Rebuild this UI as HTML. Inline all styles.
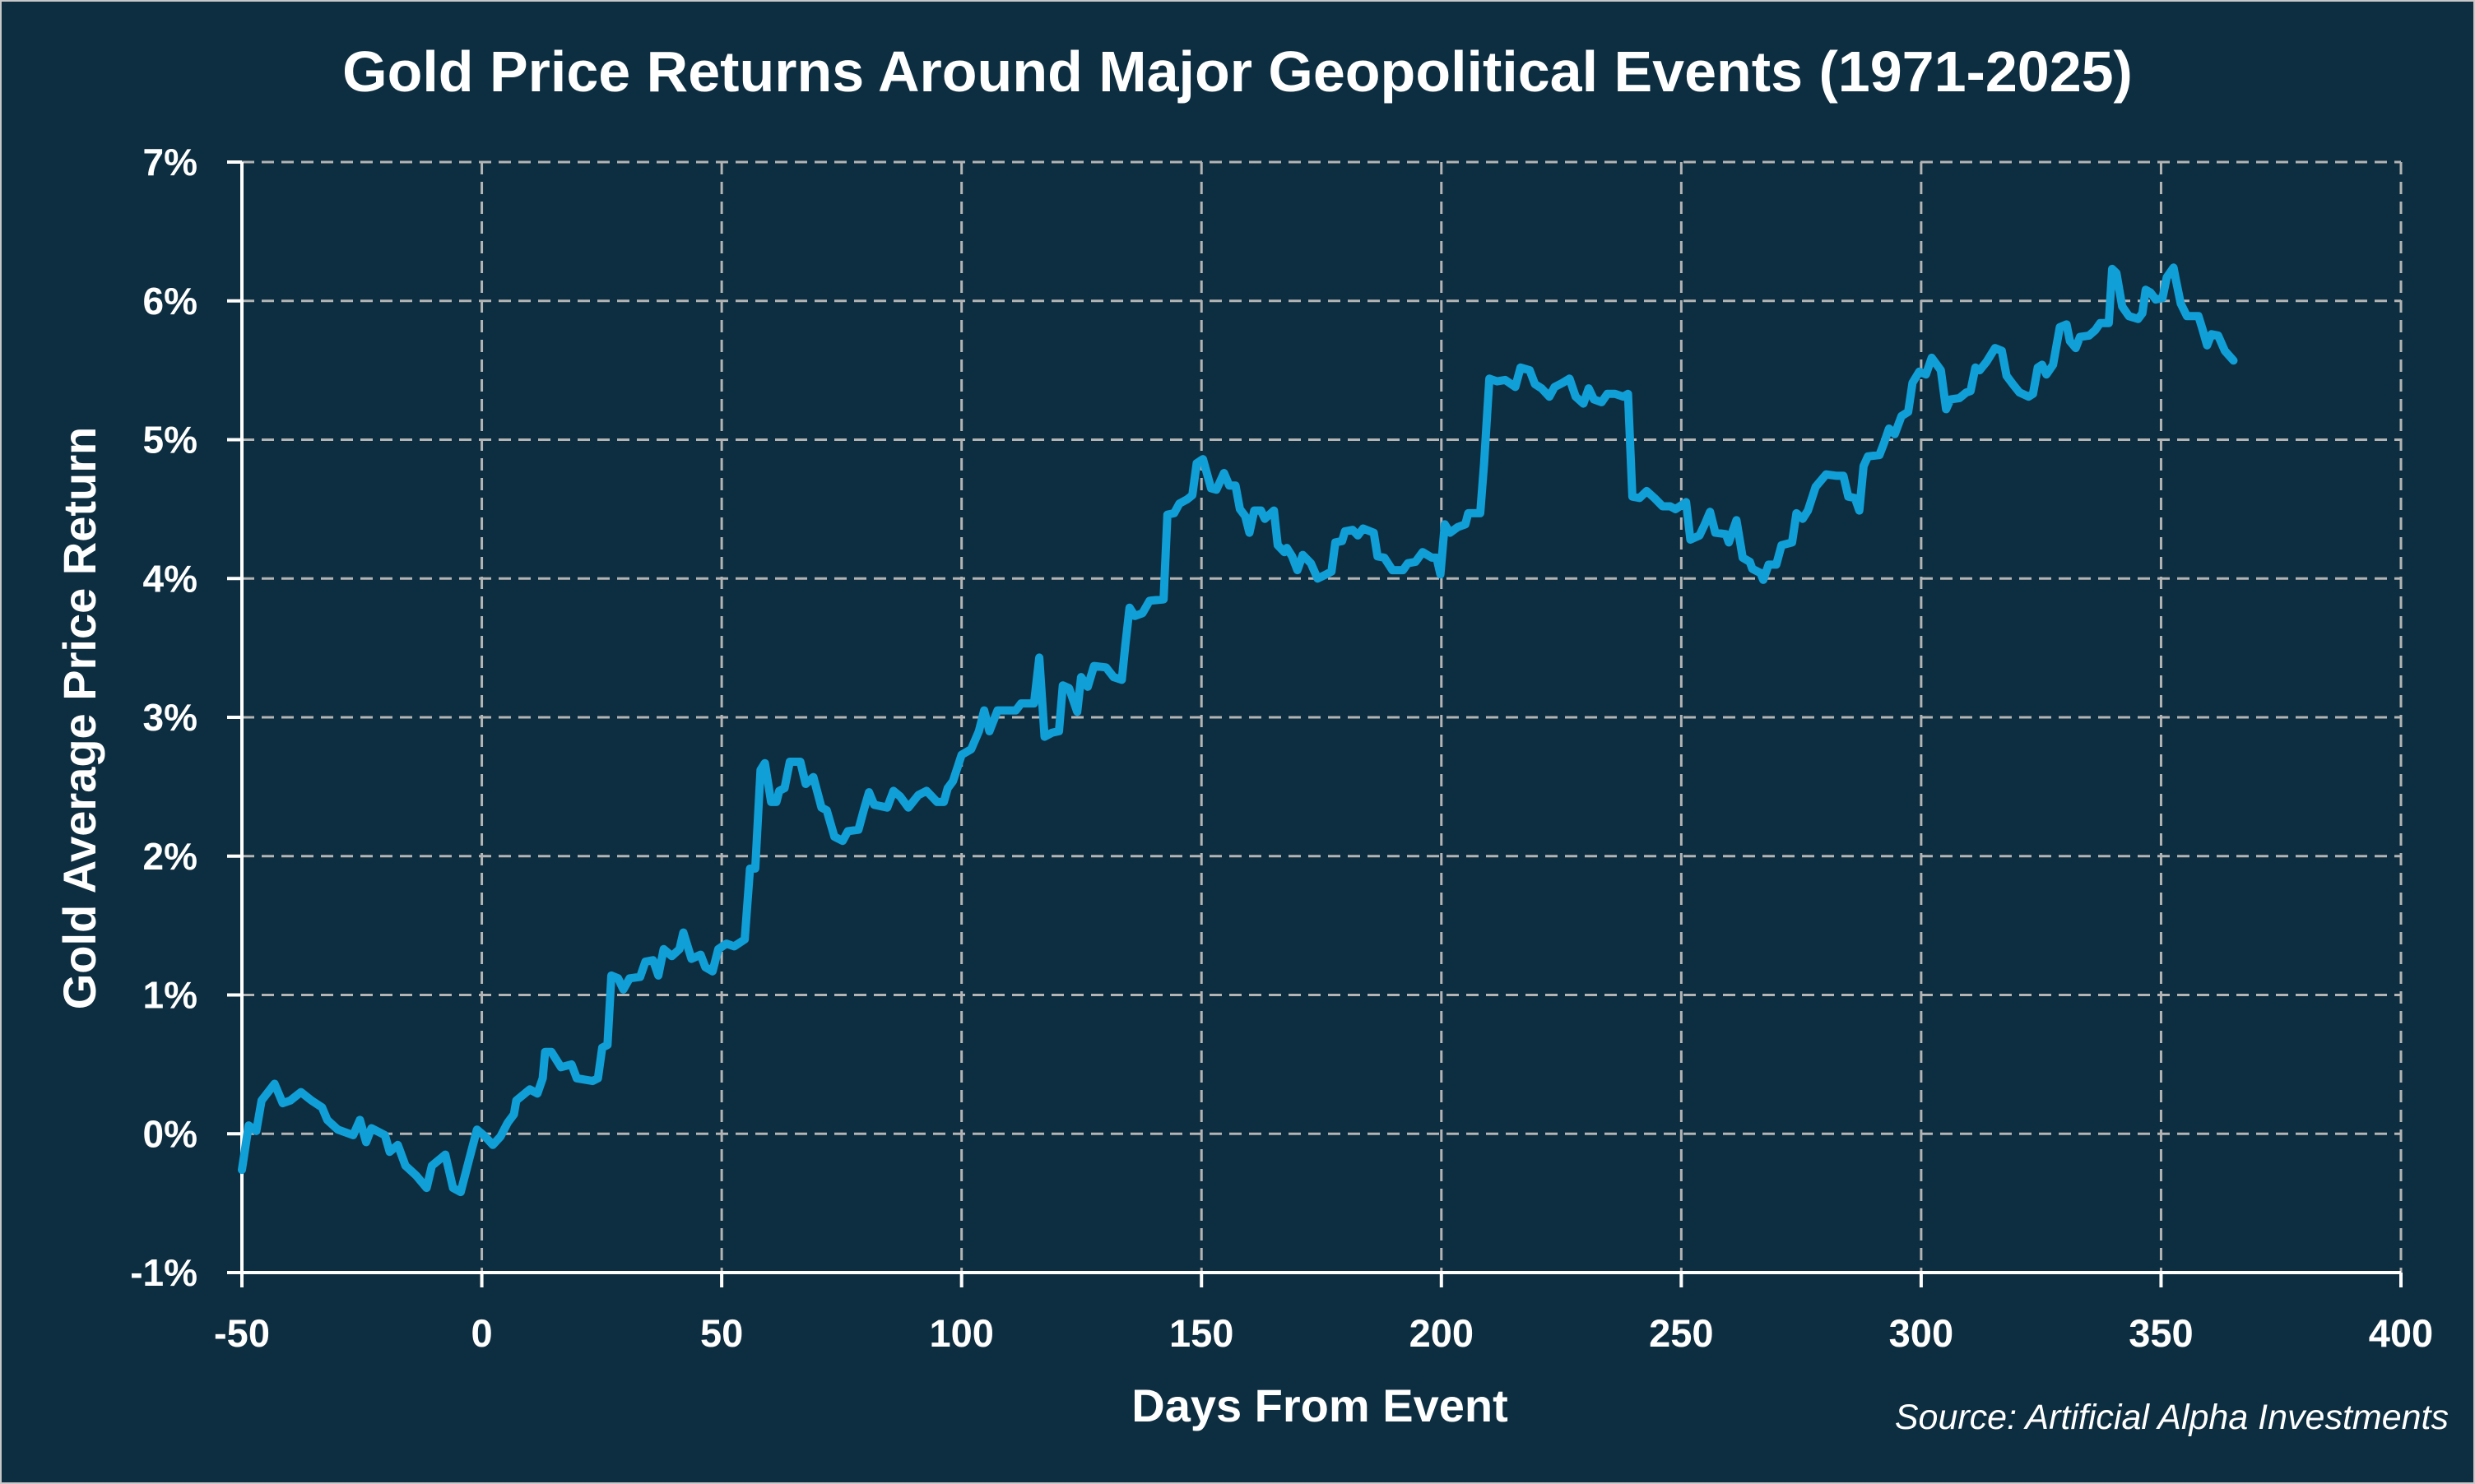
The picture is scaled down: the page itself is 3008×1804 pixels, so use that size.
<!DOCTYPE html>
<html><head><meta charset="utf-8">
<style>
html,body{margin:0;padding:0;background:#0d2e40;}
svg{display:block;}
text{font-family:"Liberation Sans",sans-serif;fill:#fff;}
</style></head>
<body>
<svg id="chart" width="3008" height="1804" viewBox="0 0 3008 1804" xmlns="http://www.w3.org/2000/svg">
<rect x="1" y="1" width="3006" height="1802" fill="#0d2e40" stroke="#c8c8c8" stroke-width="2"/>
<text x="1504" y="111" text-anchor="middle" font-size="70" font-weight="bold">Gold Price Returns Around Major Geopolitical Events (1971-2025)</text>
<g id="grid"></g>
<g id="axes"></g>
<g id="series"></g>
<text x="1604" y="1728" text-anchor="middle" font-size="56" font-weight="bold">Days From Event</text>
<text transform="translate(116,873) rotate(-90)" text-anchor="middle" font-size="56" font-weight="bold">Gold Average Price Return</text>
<text x="2976" y="1737" text-anchor="end" font-size="43" font-style="italic">Source: Artificial Alpha Investments</text>
</svg>
<script>
const xTicks = [-50,0,50,100,150,200,250,300,350,400];
const yTicks = [-1,0,1,2,3,4,5,6,7];
const yTickLabels = ["-1%","0%","1%","2%","3%","4%","5%","6%","7%"];
const days = [-50,-48.6,-47,-45.9,-43.2,-41.5,-39.9,-37.7,-35.5,-33.3,-32.2,-30,-26.8,-25.4,-24.1,-23,-20.2,-19.2,-17.5,-15.9,-13.7,-11.5,-10.4,-7.6,-6,-4.4,-2.6,-1,0.7,2.3,3.9,5.4,6.7,7.2,10,11.6,12.7,13.2,14.5,16.5,18.7,19.8,23.1,24.2,25.1,26.2,27,28.4,29.5,30.8,33,34.1,35.7,36.8,37.9,39.6,41.2,42,43.7,45.6,46.6,48.1,49.3,51,52.6,54.8,55.9,57,58.1,59,60.3,61.4,62,63.1,64.2,66.4,67.5,69.1,70.8,71.9,73.5,75.2,76.3,78.5,79.6,80.7,81.8,84.5,85.8,87.2,88.9,91,92.7,94.9,96.3,97.1,98.2,100,102,103.6,104.7,105.8,107.5,111.3,112.4,115.1,116.2,117.3,118.9,
120.3,121.1,122.4,124.1,124.9,126.3,127.6,130.1,131.7,133.4,134.1,135,136.1,137.7,139.2,142.1,142.9,144.3,145.4,147,148.1,149,150.3,152,153.1,154.7,155.8,157.1,158,159.1,160,161,162.4,163.2,165.1,165.9,167.3,167.8,168.9,170,171.1,172.8,174.2,176,177.1,177.9,179.3,179.9,181.5,182.6,183.7,185.9,186.7,188.1,189.8,192,193,194.6,196.1,198,199,199.8,200.7,201.8,203.4,205,205.6,208.1,208.9,210,211.6,213.3,215.4,216.5,218.4,219.5,220.9,222.5,223.6,225.3,226.7,228,229.6,230.7,231.8,233.4,234.6,236.2,237.9,238.9,239.8,241.3,242.8,244.4,246.1,247.7,248.8,251,251.9,253.8,254.9,256,257.1,259.3,259.9,261.5,262.8,264.3,264.8,266.5,267.1,268.2,269.8,270.9,273.1,274,275.3,276.4,278,280.2,282.4,
283.8,284.8,286.2,287.1,288,288.9,291.3,292.2,293.3,294.5,295.9,297.3,298.2,299.6,301,302.2,304.1,305.2,306.1,308,309.4,310.3,311.3,312.2,313.6,314.5,315.4,316.8,317.8,319.1,320.5,322.4,323.3,324.3,325.2,326.1,327.5,328.9,330.3,331,332.2,333.1,335,336.3,337.3,339.1,339.8,340.7,341.9,343.3,345.2,346.1,346.8,347.8,348.9,350.3,351.2,352.6,353.1,354.1,355.4,357.8,358.6,359.6,360.5,361.9,363.3,365.1];
const returns = [-0.26,0.06,0.02,0.24,0.36,0.22,0.24,0.30,0.24,0.19,0.10,0.03,-0.01,0.10,-0.06,0.04,-0.01,-0.13,-0.08,-0.23,-0.30,-0.39,-0.23,-0.15,-0.39,-0.42,-0.18,0.03,-0.02,-0.08,-0.02,0.08,0.14,0.24,0.32,0.29,0.40,0.59,0.59,0.48,0.50,0.40,0.38,0.40,0.62,0.64,1.14,1.12,1.04,1.12,1.13,1.24,1.25,1.14,1.33,1.28,1.33,1.45,1.26,1.29,1.20,1.17,1.33,1.37,1.35,1.40,1.91,1.91,2.62,2.67,2.39,2.39,2.47,2.49,2.68,2.68,2.52,2.57,2.35,2.33,2.14,2.11,2.18,2.19,2.33,2.46,2.37,2.35,2.47,2.43,2.35,2.44,2.47,2.39,2.39,2.49,2.54,2.73,2.77,2.90,3.05,2.90,3.05,3.05,3.10,3.10,3.43,2.86,2.89,
2.90,3.23,3.21,3.04,3.29,3.22,3.37,3.36,3.29,3.27,3.51,3.79,3.73,3.75,3.84,3.85,4.46,4.47,4.54,4.57,4.60,4.83,4.86,4.65,4.64,4.76,4.67,4.67,4.50,4.45,4.33,4.49,4.49,4.43,4.49,4.24,4.19,4.22,4.16,4.06,4.17,4.11,4.00,4.03,4.05,4.26,4.27,4.34,4.35,4.31,4.36,4.33,4.16,4.15,4.06,4.06,4.11,4.12,4.19,4.15,4.15,4.03,4.39,4.33,4.37,4.39,4.47,4.47,4.83,5.44,5.42,5.43,5.38,5.52,5.50,5.40,5.37,5.31,5.38,5.41,5.44,5.31,5.26,5.37,5.29,5.27,5.33,5.33,5.31,5.33,4.59,4.58,4.63,4.58,4.52,4.52,4.50,4.55,4.28,4.31,4.39,4.48,4.33,4.32,4.26,4.42,4.15,4.12,4.07,4.04,3.99,4.10,4.10,4.24,4.26,4.47,4.43,4.49,4.66,4.75,4.74,
4.74,4.59,4.58,4.49,4.81,4.88,4.89,4.97,5.08,5.04,5.17,5.20,5.41,5.49,5.47,5.59,5.50,5.22,5.29,5.30,5.34,5.35,5.52,5.50,5.56,5.61,5.66,5.64,5.46,5.40,5.34,5.31,5.33,5.52,5.54,5.47,5.54,5.81,5.83,5.71,5.66,5.74,5.75,5.79,5.84,5.84,6.23,6.20,5.96,5.89,5.87,5.91,6.08,6.06,6.01,6.02,6.17,6.24,6.15,5.98,5.89,5.89,5.80,5.68,5.76,5.75,5.64,5.57];

const NS="http://www.w3.org/2000/svg";
const L=294,R=2918,T=197,B=1547;
function xs(d){return L+(d-(-50))/(400-(-50))*(R-L);}
function ys(v){return B-(v-(-1))/(7-(-1))*(B-T);}
function mk(tag,attrs,parent){const e=document.createElementNS(NS,tag);for(const k in attrs)e.setAttribute(k,attrs[k]);parent.appendChild(e);return e;}
const grid=document.getElementById('grid'),axes=document.getElementById('axes'),series=document.getElementById('series');
xTicks.forEach(t=>{
  if(t!==-50){
    const g=mk('line',{x1:xs(t),x2:xs(t),y1:T,y2:B,stroke:'#b4b4b4','stroke-width':3,'stroke-dasharray':'15 9'},grid);
    
    
  }
  const tk=mk('line',{x1:xs(t),x2:xs(t),y1:B,y2:B+18,stroke:'#fff','stroke-width':4},axes);
  
  
  const lb=mk('text',{x:xs(t),y:1637,'text-anchor':'middle','font-size':47,'font-weight':'bold'},axes);
  lb.textContent=t;
  
  
});
yTicks.forEach((t,i)=>{
  if(t!==-1){
    const g=mk('line',{x1:L,x2:R,y1:ys(t),y2:ys(t),stroke:'#b4b4b4','stroke-width':3,'stroke-dasharray':'15 9'},grid);
    
    
  }
  const tk=mk('line',{x1:L-18,x2:L,y1:ys(t),y2:ys(t),stroke:'#fff','stroke-width':4},axes);
  
  
  const lb=mk('text',{x:240,y:ys(t)+16,'text-anchor':'end','font-size':46,'font-weight':'bold'},axes);
  lb.textContent=yTickLabels[i];
  
  
});
const ya=mk('line',{x1:L,x2:L,y1:T,y2:B,stroke:'#fff','stroke-width':4},axes);


const xa=mk('line',{x1:L-2,x2:R,y1:B,y2:B,stroke:'#fff','stroke-width':4},axes);


const pts=days.map((d,i)=>xs(d).toFixed(1)+','+ys(returns[i]).toFixed(1)).join(' ');
const pl=mk('polyline',{points:pts,fill:'none',stroke:'#119fd8','stroke-width':10,'stroke-linejoin':'round','stroke-linecap':'round'},series);


</script>
</body></html>
